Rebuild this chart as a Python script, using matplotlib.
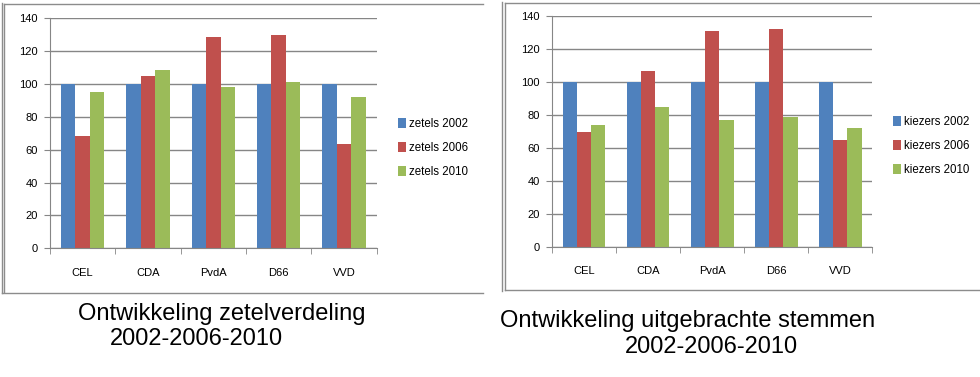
import matplotlib.pyplot as plt
import numpy as np
from matplotlib.lines import Line2D

# data (index, 2002 = 100)
partijen = ["CEL", "CDA", "PvdA", "D66", "VVD"]

zetels_2002 = [100, 100, 100, 100, 100]
zetels_2006 = [68.5, 104.7, 128.6, 129.8, 63.5]
zetels_2010 = [95.1, 108.5, 98.2, 101.2, 92.1]

kiezers_2002 = [100, 100, 100, 100, 100]
kiezers_2006 = [69.7, 106.8, 131.1, 132.3, 64.8]
kiezers_2010 = [73.9, 84.9, 77.0, 78.8, 72.1]

kleuren = ["#4F81BD", "#C0504D", "#9BBB59"]
grijs = "#868686"

W, H = 980, 377
fig = plt.figure(figsize=(W / 100, H / 100), dpi=100)
plt.rcParams['font.family'] = ['Liberation Sans', 'DejaVu Sans']


def px_ax(x0, y0, x1, y1):
    # pixel box -> figure fraction
    return fig.add_axes([x0 / W, 1 - y1 / H, (x1 - x0) / W, (y1 - y0) / H])


def staafgrafiek(ax, reeksen, namen, leg_x, leg_y):
    x = np.arange(len(partijen))
    bw = 1 / 4.5
    for i, (vals, naam) in enumerate(zip(reeksen, namen)):
        ax.bar(x + (i - 1) * bw, vals, bw, color=kleuren[i], label=naam, zorder=3)
    ax.set_xlim(-0.5, len(partijen) - 0.5)
    ax.set_ylim(0, 140)
    ax.set_yticks(range(0, 141, 20))
    ax.yaxis.grid(True, color=grijs, lw=1, zorder=0)
    ax.set_xticks(x)
    ax.set_xticklabels(partijen, fontsize=8)
    ax.tick_params(axis='x', length=0, pad=14)
    ax.set_xticks(np.arange(-0.5, len(partijen)), minor=True)
    ax.tick_params(axis='x', which='minor', length=4, color=grijs, direction='out')
    ax.tick_params(axis='y', length=4, color=grijs, labelsize=8, pad=5)
    for s in ['top', 'right']:
        ax.spines[s].set_visible(False)
    ax.spines['left'].set_color(grijs)
    ax.spines['bottom'].set_color(grijs)
    ax.spines['bottom'].set_zorder(4)
    leg = ax.legend(loc='center left', bbox_to_anchor=(leg_x, leg_y), frameon=False,
                    fontsize=8.3, handlelength=0.7, handleheight=0.9,
                    handletextpad=0.25, labelspacing=1.05, borderaxespad=0, borderpad=0)
    return leg


ax1 = px_ax(50, 18.3, 376.7, 248.3)
staafgrafiek(ax1, [zetels_2002, zetels_2006, zetels_2010],
             ["zetels 2002", "zetels 2006", "zetels 2010"], 1.065, 0.436)

ax2 = px_ax(552, 16.3, 872.3, 246.7)
staafgrafiek(ax2, [kiezers_2002, kiezers_2006, kiezers_2010],
             ["kiezers 2002", "kiezers 2006", "kiezers 2010"], 1.065, 0.437)

# frames around the two chart objects
def lijn(xs, ys):
    fig.add_artist(Line2D([x / W for x in xs], [1 - y / H for y in ys],
                          color="#8c8c8c", lw=1))

lijn([1.5, 1.5], [3, 293])
lijn([4, 4], [4, 292])
lijn([4, 483], [4, 4])
lijn([1.5, 483], [292.5, 292.5])

lijn([502, 502], [2, 291])
lijn([505, 505], [3, 290])
lijn([505, 980], [3, 3])
lijn([505, 980], [290, 290])

# titles below the charts
def titel(x, y, s, size=17):
    fig.text(x / W, 1 - y / H, s, ha='left', va='baseline', fontsize=size)

titel(78, 320, "Ontwikkeling zetelverdeling")
titel(110, 345, "2002-2006-2010")
titel(500, 327, "Ontwikkeling uitgebrachte stemmen")
titel(625, 353, "2002-2006-2010")

fig.savefig("out.png", dpi=100)
